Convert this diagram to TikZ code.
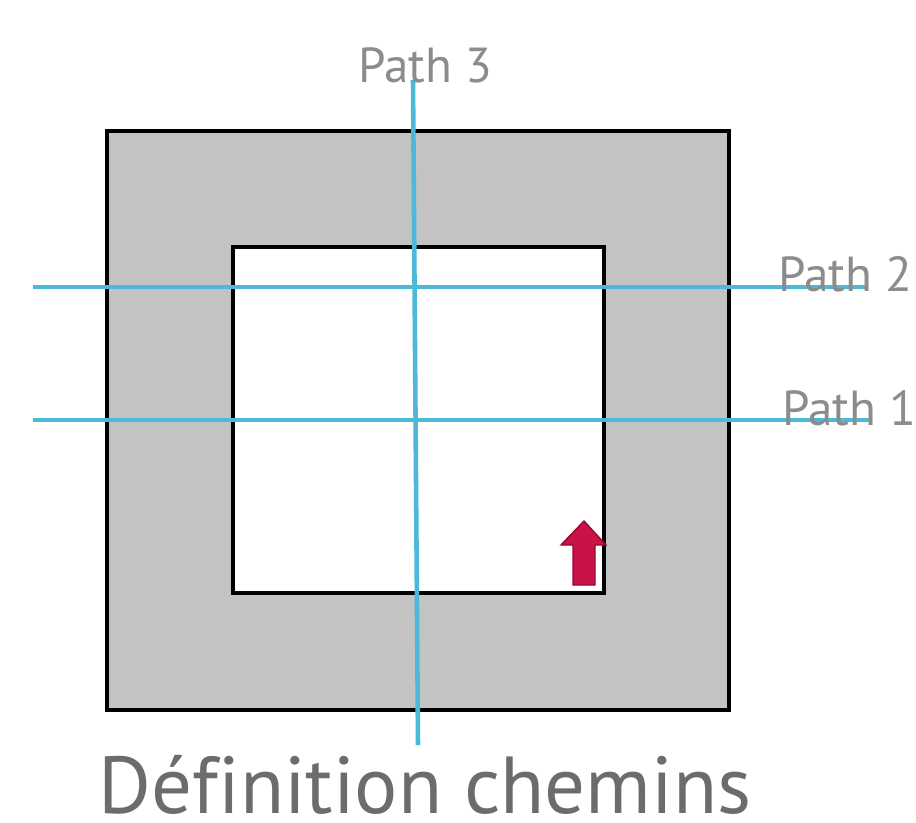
\documentclass[tikz,border=0pt]{standalone}
\usepackage{fontspec}
\setmainfont{PT Sans}[Ligatures=CommonOff]
\usepackage{tikz}
\usetikzlibrary{positioning}
\usepackage{xcolor}
\definecolor{pathblue}{RGB}{75, 186, 214}
\definecolor{wallgray}{RGB}{195, 195, 195}
\definecolor{labelgray}{RGB}{140, 140, 140}
\definecolor{titlegray}{RGB}{108, 108, 108}
\definecolor{crimson}{RGB}{200, 18, 72}
\definecolor{darkcrimson}{RGB}{150, 10, 50}

\begin{document}
\begin{tikzpicture}[
    x=0.02cm, y=-0.02cm,
    wall/.style={draw=black, line width=2.2pt},
    cut/.style={draw=pathblue, line width=2.6pt},
    pathlabel/.style={text=labelgray, font=\fontsize{28}{30}\selectfont,
                      inner sep=0pt, anchor=base west},
  ]
    \useasboundingbox (0,0) rectangle (916,822);

    % walls
    \filldraw[wall, fill=wallgray] (107,131) rectangle (729,710);
    \filldraw[wall, line width=1.8pt, fill=white] (233,247) rectangle (604,593);

    % path ends
    \coordinate (p1w) at (33,420);
    \coordinate (p1e) at (872,420);
    \coordinate (p2w) at (33,287);
    \coordinate (p2e) at (865,287);
    \coordinate (p3n) at (413,80);
    \coordinate (p3s) at (418,745);

    \draw[cut] (p1w) -- (p1e);
    \draw[cut] (p2w) -- (p2e);
    \draw[cut] (p3n) -- (p3s);

    \node[pathlabel] (lab1) at (782,425) {Path 1};
    \node[pathlabel] (lab2) at (778,291) {Path 2};
    \node[pathlabel] (lab3) at (358,82) {Path 3};

    % arrow
    \filldraw[fill=crimson, draw=darkcrimson, line width=0.8pt]
      (573,585) -- (573,545) -- (561,545) -- (584,521) -- (606,545)
      -- (595,545) -- (595,585) -- cycle;

    \node[text=titlegray, font=\fontsize{46}{50}\selectfont, inner sep=0pt,
          text depth=0pt, anchor=base] (title) at (425,813) {Définition chemins};
  \end{tikzpicture}
\end{document}
